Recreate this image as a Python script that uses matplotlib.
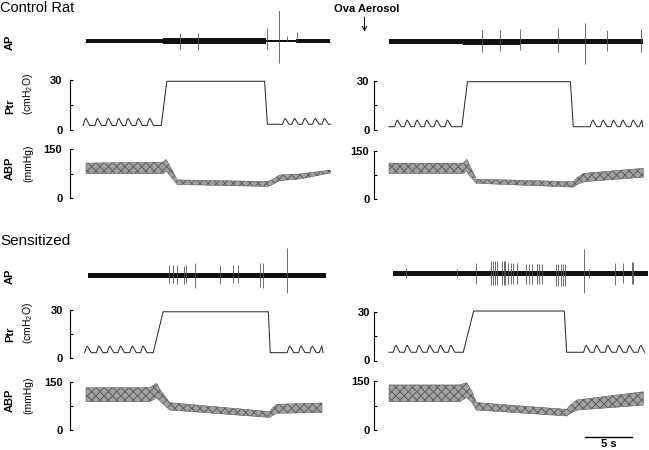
import matplotlib.pyplot as plt
from matplotlib.patches import FancyArrowPatch

plt.rcParams['font.family'] = ['Liberation Sans', 'DejaVu Sans']
plt.rcParams['mathtext.default'] = 'regular'
plt.rcParams['hatch.linewidth'] = 0.7

W, H = 649, 450
PX_PER_S = 9.4  # 5 s scale bar = 47 px

# ---------------- data (time in s from start of each trace) ----------------
# AP: band segments (edges, half thickness) and spikes (time, top, bottom)
ctl_l_ap_edges = [0.0, 8.2, 19.1, 22.3, 26.0]
ctl_l_ap_half = [2.0, 3.3, 0.6, 2.2]
ctl_l_spike_t = [10.0, 11.9, 19.3, 20.5, 21.4, 22.4]
ctl_l_spike_top = [8, 8, 13, 33, 5, 9]
ctl_l_spike_bot = [-9, -9, -9, -22, 0, 0]

ctl_r_ap_edges = [0.0, 7.9, 13.9, 27.0]
ctl_r_ap_half = [2.3, 3.0, 2.6]
ctl_r_spike_t = [9.9, 11.8, 13.9, 18.0, 20.9, 23.2, 26.8]
ctl_r_spike_top = [12, 12, 13, 14, 19, 12, 13]
ctl_r_spike_bot = [-10, -9, -8, -10, -22, -9, -10]

sen_l_ap_edges = [0.2, 25.5]
sen_l_ap_half = [2.5]
sen_l_spike_t = [8.86, 9.22, 9.65, 10.43, 10.64, 11.6, 14.3, 15.6, 16.2, 18.5, 18.8, 21.35]
sen_l_spike_top = [10, 10, 10, 9, 10, 12, 10, 10, 10, 12, 12, 27]
sen_l_spike_bot = [-8, -8, -9, -9, -8, -13, -9, -8, -8, -12, -13, -18]

sen_r_ap_edges = [0.4, 27.6]
sen_r_ap_half = [2.5]
sen_r_spike_t = [1.8, 7.2, 9.3, 10.9, 11.1, 11.3, 11.5, 12.0, 12.2, 12.3, 12.7, 13.0,
                 13.2, 13.6, 14.6, 14.9, 15.2, 15.7, 16.0, 16.3, 17.8, 18.0, 18.3,
                 18.5, 18.7, 20.7, 21.3, 24.0, 24.9, 25.8, 26.0]
sen_r_spike_top = [5, 4, 10, 12, 12, 12, 12, 12, 12, 12, 10, 10,
                   10, 10, 9, 9, 9, 9, 9, 9, 9, 9, 9,
                   9, 9, 24, 4, 10, 10, 11, 11]
sen_r_spike_bot = [-5, -4, -11, -12, -12, -12, -12, -12, -12, -12, -11, -11,
                   -11, -11, -11, -11, -11, -11, -11, -11, -13, -13, -13,
                   -13, -13, -20, -5, -12, -10, -11, -11]

# Ptr (cmH2O): breath peaks, baselines, peak level, plateau, rise/fall times
ctl_l_breaths_pre = [0.0, 1.25, 2.4, 3.5, 4.5, 5.6, 6.8]
ctl_l_breaths_post = [21.2, 22.2, 23.3, 24.4, 25.4]
ctl_l_ptr_levels = [2.4, 3.2, 6.8, 29.4]   # base pre, base post, breath peak, plateau
ctl_l_ptr_steps = [8.0, 8.6, 19.0, 19.3, 26.0]  # rise start, top, fall start, bottom, end

ctl_r_breaths_pre = [0.9, 1.95, 3.0, 4.05, 5.1, 6.25]
ctl_r_breaths_post = [21.7, 22.8, 23.9, 24.9, 26.0, 26.9]
ctl_r_ptr_levels = [2.0, 2.0, 6.0, 29.4]
ctl_r_ptr_steps = [7.75, 8.35, 19.3, 19.6, 27.0]

sen_l_breaths_pre = [0.15, 1.4, 2.55, 3.7, 4.95, 6.1]
sen_l_breaths_post = [21.7, 22.9, 24.1, 25.1]
sen_l_ptr_levels = [3.5, 3.5, 7.6, 28.9]
sen_l_ptr_steps = [7.15, 8.2, 19.4, 19.6, 25.2]

sen_r_breaths_pre = [0.75, 1.95, 3.2, 4.35, 5.5, 6.6]
sen_r_breaths_post = [21.0, 22.1, 23.3, 24.5, 25.6, 26.8]
sen_r_ptr_levels = [5.1, 5.1, 9.4, 30.6]
sen_r_ptr_steps = [7.9, 9.0, 18.65, 18.9, 27.2]

# ABP (mmHg): envelope of the pulse band
ctl_l_abp_t = [0.0, 8.2, 8.5, 8.7, 9.7, 19.3, 19.7, 20.6, 22.8, 26.0]
ctl_l_abp_hi = [107, 110, 118, 110, 56, 51, 55, 71, 74, 86]
ctl_l_abp_lo = [75, 75, 83, 77, 42, 36, 40, 54, 59, 77]

ctl_r_abp_t = [0.0, 7.9, 8.25, 8.5, 9.3, 19.6, 20.0, 20.7, 27.05]
ctl_r_abp_hi = [112, 112, 124, 110, 62, 54, 66, 80, 96]
ctl_r_abp_lo = [80, 80, 88, 75, 49, 37, 45, 54, 68]

sen_l_abp_t = [0.0, 6.8, 7.5, 7.9, 8.9, 19.6, 19.75, 20.3, 25.1]
sen_l_abp_hi = [131, 132, 145, 125, 85, 57, 66, 80, 84]
sen_l_abp_lo = [88, 88, 100, 90, 62, 39, 44, 52, 54]

sen_r_abp_t = [0.0, 7.55, 8.25, 8.8, 9.3, 18.9, 19.25, 20.0, 27.05]
sen_r_abp_hi = [138, 138, 145, 120, 84, 63, 75, 92, 117]
sen_r_abp_lo = [87, 87, 100, 85, 61, 43, 50, 61, 76]

scale_bar_s = 5

# ---------------- layout (pixels) ----------------
fig = plt.figure(figsize=(W / 100, H / 100), dpi=100)


def px_axes(left, top, right, bottom):
    return fig.add_axes([left / W, 1 - bottom / H, (right - left) / W, (bottom - top) / H])


def xlim_for(left, right, x0):
    return ((left - x0) / PX_PER_S, (right - x0) / PX_PER_S)


def draw_ap(ax, edges, half, st, top, bot):
    hw = list(half) + [half[-1]]
    ax.fill_between(edges, [-h for h in hw], hw, step='post', color='#111111', lw=0)
    ax.vlines(st, bot, top, color='#555555', lw=0.6)
    ax.set_ylim(-30, 30)
    ax.axis('off')


def ptr_line(pre, post, levels, steps):
    base0, base1, peak, plat = levels
    t, v = [], []
    if pre[0] - 0.3 > 0:
        t.append(0.0)
        v.append(base0)
    for p in pre:
        t += [p - 0.3, p - 0.1, p, p + 0.4]
        v += [base0, peak - 0.6, peak, base0]
    t += [steps[0], steps[1], steps[2], steps[3]]
    v += [base0, plat, plat, base1]
    for p in post:
        if p + 0.4 <= steps[4]:
            t += [p - 0.3, p - 0.1, p, p + 0.4]
            v += [base1, peak - 0.6, peak, base1]
        else:
            t += [p - 0.3, p]
            v += [base1, peak]
    if t[-1] < steps[4]:
        t.append(steps[4])
        v.append(base1)
    return t, v


def style_scale(ax, top, pad):
    for s in ['top', 'right', 'bottom']:
        ax.spines[s].set_visible(False)
    ax.spines['left'].set_linewidth(0.8)
    ax.set_ylim(0, top)
    ax.set_yticks([0, top / 2, top])
    ax.set_yticklabels(['0', '', str(top)], fontsize=8, fontweight='bold')
    ax.tick_params(axis='y', direction='in', length=2.5, width=0.8, pad=pad)
    ax.set_xticks([])
    ax.patch.set_visible(False)


blocks = [
    # spine x, x0, right, ap centre, ptr(30, 0), abp(150, 0), tick pad, data
    (70, 86, 340, 41, (80.3, 129.5), (149, 198.3), 5.5,
     (ctl_l_ap_edges, ctl_l_ap_half, ctl_l_spike_t, ctl_l_spike_top, ctl_l_spike_bot),
     (ctl_l_breaths_pre, ctl_l_breaths_post, ctl_l_ptr_levels, ctl_l_ptr_steps),
     (ctl_l_abp_t, ctl_l_abp_hi, ctl_l_abp_lo)),
    (373.5, 389, 649, 41.5, (80.7, 130), (151, 199), 3,
     (ctl_r_ap_edges, ctl_r_ap_half, ctl_r_spike_t, ctl_r_spike_top, ctl_r_spike_bot),
     (ctl_r_breaths_pre, ctl_r_breaths_post, ctl_r_ptr_levels, ctl_r_ptr_steps),
     (ctl_r_abp_t, ctl_r_abp_hi, ctl_r_abp_lo)),
    (70, 86, 340, 275, (310, 358.3), (381.7, 430), 5,
     (sen_l_ap_edges, sen_l_ap_half, sen_l_spike_t, sen_l_spike_top, sen_l_spike_bot),
     (sen_l_breaths_pre, sen_l_breaths_post, sen_l_ptr_levels, sen_l_ptr_steps),
     (sen_l_abp_t, sen_l_abp_hi, sen_l_abp_lo)),
    (374, 389, 649, 273.3, (312, 360.5), (381, 430), 3,
     (sen_r_ap_edges, sen_r_ap_half, sen_r_spike_t, sen_r_spike_top, sen_r_spike_bot),
     (sen_r_breaths_pre, sen_r_breaths_post, sen_r_ptr_levels, sen_r_ptr_steps),
     (sen_r_abp_t, sen_r_abp_hi, sen_r_abp_lo)),
]

abp_axes = []
for spine, x0, right, apc, ptr_px, abp_px, pad, ap, ptr, abp in blocks:
    xl = xlim_for(spine, right, x0)

    ax = px_axes(spine, apc - 30, right, apc + 30)
    draw_ap(ax, *ap)
    ax.set_xlim(*xl)

    ax = px_axes(spine, ptr_px[0], right, ptr_px[1])
    t, v = ptr_line(*ptr)
    ax.plot(t, v, color='#222222', lw=0.7, clip_on=False)
    ax.set_xlim(*xl)
    style_scale(ax, 30, pad)

    ax = px_axes(spine, abp_px[0], right, abp_px[1])
    ax.fill_between(abp[0], abp[2], abp[1], facecolor='#a2a2a2', edgecolor='#5e5e5e',
                    hatch='xxxx', lw=0.4, clip_on=False)
    ax.set_xlim(*xl)
    style_scale(ax, 150, pad)
    abp_axes.append(ax)

# scale bar on last ABP panel
ax = abp_axes[-1]
bar_start = (585 - 389) / PX_PER_S
ax.plot([bar_start, bar_start + scale_bar_s], [-22, -22], color='black', lw=1, clip_on=False)
ax.text(bar_start + scale_bar_s / 2, -27, f'{scale_bar_s} s', ha='center', va='top',
        fontsize=8, fontweight='bold')

# ---------------- text ----------------
def ftext(x, y, s, **kw):
    fig.text(x / W, 1 - y / H, s, **kw)


ftext(0, 8.3, 'Control Rat', fontsize=10.5, ha='left', va='center')
ftext(0, 240.5, 'Sensitized', fontsize=11, ha='left', va='center')
ftext(367, 9.5, 'Ova Aerosol', fontsize=8, fontweight='bold', ha='center', va='center')
fig.add_artist(FancyArrowPatch((364.5 / W, 1 - 17 / H), (364.5 / W, 1 - 31.5 / H),
                               transform=fig.transFigure, shrinkA=0, shrinkB=0,
                               arrowstyle='->,head_length=3,head_width=1.6',
                               lw=0.7, color='black'))

# rotated labels, bottom-aligned
for ap_b, ptr_b, abp_b in [(50, 115, 182), (284, 344, 413.5)]:
    ftext(10, ap_b, 'AP', rotation=90, fontsize=8, fontweight='bold', ha='center', va='bottom')
    ftext(10, ptr_b - 1.5, 'Ptr', rotation=90, fontsize=8, fontweight='bold', ha='center', va='bottom')
    ftext(28, ptr_b, '(cmH$_2$O)', rotation=90, fontsize=7.5, ha='center', va='bottom')
    ftext(10, abp_b - 1.5, 'ABP', rotation=90, fontsize=8, fontweight='bold', ha='center', va='bottom')
    ftext(28, abp_b, '(mmHg)', rotation=90, fontsize=7.5, ha='center', va='bottom')

fig.savefig('out.png', dpi=100)
